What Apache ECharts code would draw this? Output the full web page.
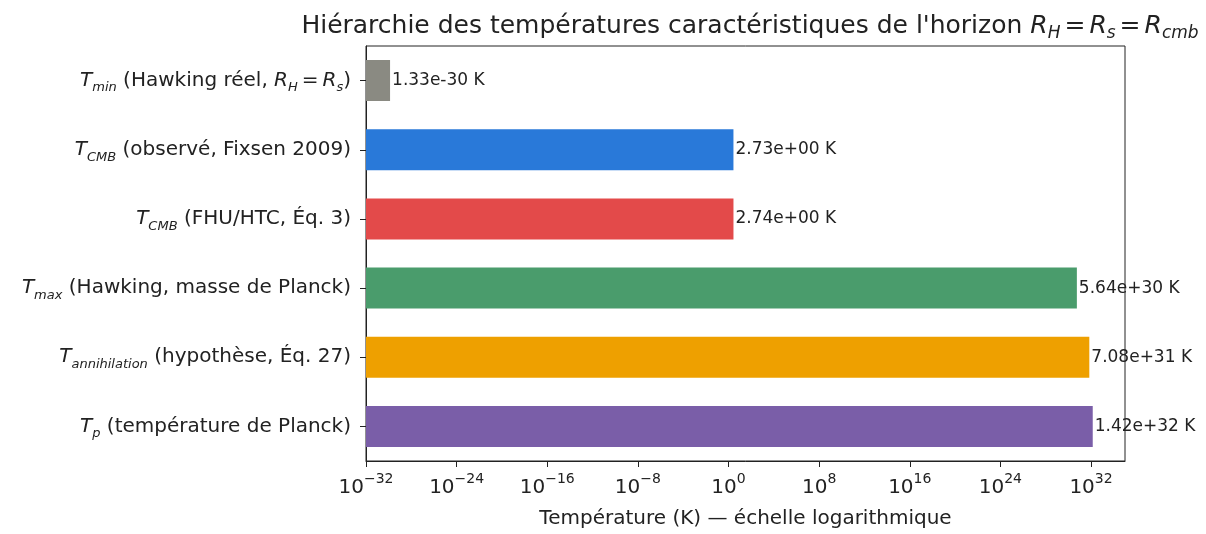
<!DOCTYPE html>
<html>
<head>
<meta charset="utf-8">
<script src="https://cdn.jsdelivr.net/npm/echarts@6/dist/echarts.min.js"></script>
<style>
  html, body { margin: 0; padding: 0; background: #fff; }
  #chart { width: 1206px; height: 534px; }
</style>
</head>
<body>
<div id="chart"></div>
<script>
// categories, top to bottom (T_x / R_x = italic with subscript)
const categories = [
  'T_min (Hawking réel, R_H = R_s)',
  'T_CMB (observé, Fixsen 2009)',
  'T_CMB (FHU/HTC, Éq. 3)',
  'T_max (Hawking, masse de Planck)',
  'T_annihilation (hypothèse, Éq. 27)',
  'T_p (température de Planck)'
];
const temps = [1.33e-30, 2.73, 2.74, 5.64e30, 7.08e31, 1.42e32];
const barColors = ['#8a8a82', '#2979d9', '#e34a4a', '#4a9c6c', '#eea000', '#7a5ea8'];
const xTickExps = [-32, -24, -16, -8, 0, 8, 16, 24, 32];

// axis runs on log10 decades, shifted so that bars grow from the left edge (1e-32)
const logMin = -32;
const logMax = 35;

// matplotlib-ish "1.33e-30" formatting
function sci(v) {
  const parts = v.toExponential(2).split('e');
  let exp = parseInt(parts[1], 10);
  const sign = exp < 0 ? '-' : '+';
  exp = Math.abs(exp);
  return parts[0] + 'e' + sign + (exp < 10 ? '0' + exp : exp) + ' K';
}

function mathLabel(s) {
  return s.replace(/([TR])_(\w+)/g, '{i|$1}{sub|$2}').replace(/ = /g, '{n|=}');
}

const subRich = {
  i: { fontStyle: 'italic', fontSize: 20, color: '#222', lineHeight: 28, verticalAlign: 'middle' },
  sub: { fontStyle: 'italic', fontSize: 13, color: '#222', lineHeight: 28, verticalAlign: 'bottom' },
  n: { fontSize: 20, color: '#222', padding: [0, 4, 0, 4] }
};

const chart = echarts.init(document.getElementById('chart'));

chart.setOption({
  animation: false,
  title: {
    text: mathLabel("Hiérarchie des températures caractéristiques de l'horizon R_H = R_s = R_cmb"),
    left: 745,
    textAlign: 'center',
    top: 5,
    textStyle: {
      fontFamily: 'DejaVu Sans',
      fontWeight: 'normal',
      fontSize: 25,
      color: '#222',
      rich: {
        i: { fontStyle: 'italic', fontSize: 25, color: '#222', lineHeight: 32 },
        sub: { fontStyle: 'italic', fontSize: 17, color: '#222', lineHeight: 32, verticalAlign: 'bottom' },
        n: { fontSize: 25, color: '#222', padding: [0, 4, 0, 4] }
      }
    }
  },
  grid: {
    left: 366,
    right: 81,
    top: 46,
    bottom: 71,
    show: true,
    borderColor: '#222',
    borderWidth: 1
  },
  xAxis: {
    type: 'value',
    min: 0,
    max: logMax - logMin,
    interval: 8,
    name: 'Température (K) — échelle logarithmique',
    nameLocation: 'middle',
    nameGap: 48,
    nameTextStyle: { fontFamily: 'DejaVu Sans', fontSize: 20, color: '#222' },
    splitLine: { show: false },
    axisLine: { show: true, lineStyle: { color: '#222' } },
    axisTick: { show: true, length: 6, lineStyle: { color: '#222' } },
    axisLabel: {
      showMaxLabel: false,
      margin: 11,
      fontFamily: 'DejaVu Sans',
      fontSize: 20,
      color: '#222',
      formatter: function (v) {
        const e = Math.round(v + logMin);
        if (xTickExps.indexOf(e) < 0) return '';
        return '{b|10}{s|' + (e < 0 ? '−' + (-e) : e) + '}';
      },
      rich: {
        b: { fontSize: 20, color: '#222', lineHeight: 26, verticalAlign: 'bottom' },
        s: { fontSize: 14, color: '#222', lineHeight: 26, verticalAlign: 'top' }
      }
    }
  },
  yAxis: {
    type: 'category',
    inverse: true,
    data: categories,
    axisLine: { show: true, lineStyle: { color: '#222' } },
    axisTick: { show: true, alignWithLabel: true, length: 6, lineStyle: { color: '#222' } },
    axisLabel: {
      margin: 15,
      fontFamily: 'DejaVu Sans',
      fontSize: 20,
      color: '#222',
      formatter: mathLabel,
      rich: subRich
    }
  },
  series: [{
    type: 'bar',
    barWidth: 41,
    data: temps.map(function (v, i) {
      return { value: Math.log10(v) - logMin, itemStyle: { color: barColors[i] } };
    }),
    label: {
      show: true,
      position: 'right',
      distance: 2,
      fontFamily: 'DejaVu Sans',
      fontSize: 17,
      color: '#222',
      formatter: function (p) { return sci(temps[p.dataIndex]); }
    }
  }]
});
</script>
</body>
</html>
